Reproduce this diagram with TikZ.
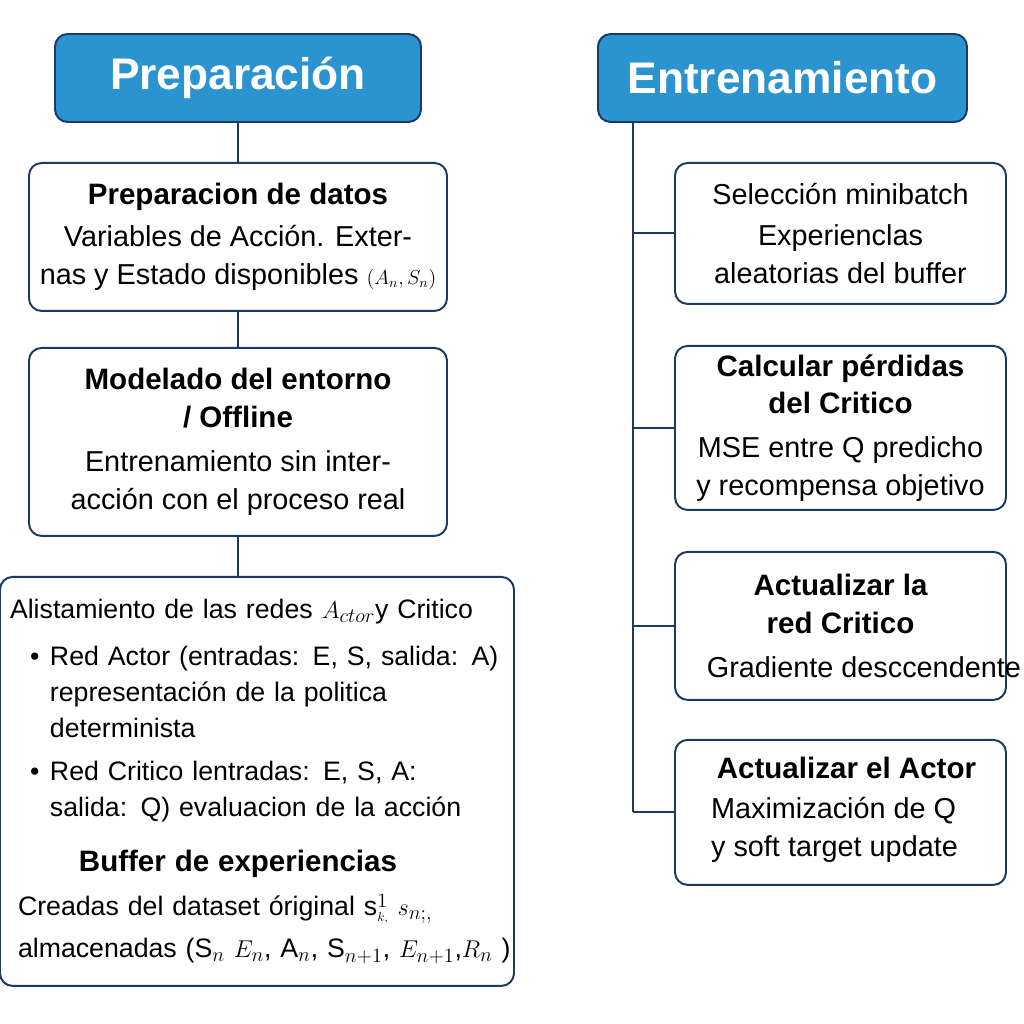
\documentclass[tikz,border=0pt]{standalone}
\usepackage{amssymb,amsmath}
\usepackage{fontspec}
\setmainfont{Liberation Sans}
\usepackage{tikz}
\usetikzlibrary{positioning}
\definecolor{navy}{HTML}{1B3A66}
\definecolor{headblue}{HTML}{2A93D0}

\begin{document}
\begin{tikzpicture}[node distance=1cm,line width=1.4pt,
        head/.style={rectangle,rounded corners=9pt,draw=navy,fill=headblue,text=white,minimum height=2.2cm,
          font=\fontsize{31.5}{36}\selectfont\bfseries},
        box/.style={rectangle,rounded corners=9pt,draw=navy,align=center,inner sep=0pt,
          font=\fontsize{20.5}{27}\selectfont},
        link/.style={draw=navy}]
        \useasboundingbox (0,0) rectangle (25.6,-25.6);
        % columna izquierda
        \node[head,minimum width=9.15cm]  (prep)    at (5.95,-1.95)     {Preparación};
        \node[box,minimum width=10.45cm,minimum height=3.7cm] (datos) [below=0.975cm of prep]
          {{\fontsize{21}{27}\selectfont\bfseries Preparacion de datos}\\[3pt]
           Variables de Acción. Exter-\\
           nas y Estado disponibles {\fontsize{14}{14}\selectfont$(A_n, S_n)$}};
        \node[box,minimum width=10.45cm,minimum height=4.7cm] (modelo) [below=0.875cm of datos]
          {{\fontsize{21}{27}\selectfont\bfseries Modelado del entorno}\\
           {\fontsize{21}{27}\selectfont\bfseries / Offline}\\[4pt]
           Entrenamiento sin inter-\\
           acción con el proceso real};
        \node[box,align=left,text width=12.35cm,inner xsep=0.25cm,minimum height=10.225cm,
          font=\fontsize{19}{25.5}\selectfont] (alist)
          [below=0.975cm of modelo,xshift=0.475cm]
          {Alistamiento de las redes $A_{ctor}$y Critico\\[8pt]
           \hspace*{0.5cm}\makebox[0.5cm][l]{\textbullet}Red Actor (entradas: E, S, salida: A)\\
           \hspace*{1cm}representación de la politica\\
           \hspace*{1cm}determinista\\[5pt]
           \hspace*{0.5cm}\makebox[0.5cm][l]{\textbullet}Red Critico lentradas: E, S, A:\\
           \hspace*{1cm}salida: Q) evaluacion de la acción\\[14pt]
           \makebox[11.4cm]{\fontsize{21}{27}\selectfont\bfseries Buffer de experiencias}\\[6pt]
           \hspace*{0.2cm}Creadas del dataset óriginal s$^{1}_{\scriptscriptstyle k,}$ $s_{n;,}$\\[4pt]
           \makebox[12.35cm][l]{\hspace*{0.2cm}almacenadas (S$_n$ $E_n$, A$_n$, S$_{n+1}$, $E_{n+1}$,$R_n$ )}};
        % columna derecha
        \node[head,minimum width=9.225cm] (entrena) at (19.5625,-1.95)  {Entrenamiento};
        \node[box,minimum width=8.275cm,minimum height=3.525cm] (minibatch) [below=0.975cm of entrena,xshift=1.45cm]
          {Selección minibatch\\[2pt]
           Experienclas\\
           aleatorias del buffer};
        \node[box,minimum width=8.275cm,minimum height=4.1cm] (perdidas) [below=of minibatch]
          {{\fontsize{21}{27}\selectfont\bfseries Calcular pérdidas}\\
           {\fontsize{21}{27}\selectfont\bfseries del Critico}\\[4pt]
           MSE entre Q predicho\\
           y recompensa objetivo};
        \node[box,minimum width=8.275cm,minimum height=3.7cm] (critico) [below=of perdidas]
          {{\fontsize{21}{27}\selectfont\bfseries Actualizar la}\\
           {\fontsize{21}{27}\selectfont\bfseries red Critico}\\[4pt]
           \makebox[7.8cm][l]{\hspace*{0.56cm}Gradiente desccendente}};
        \node[box,minimum width=8.275cm,minimum height=3.625cm] (actor) [below=0.95cm of critico]
          {\hspace*{0.3cm}{\fontsize{21}{27}\selectfont\bfseries Actualizar el Actor}\\[8pt]
           \begin{tabular}{@{}l@{}}Maximización de Q\\y soft target update\end{tabular}\hspace*{0.3cm}};
        \coordinate (spine) at ([xshift=0.9cm]entrena.south west);
        \path[link]
          (prep) edge (datos)
          (datos) edge (modelo)
          (modelo.south) edge (modelo.south |- alist.north)
          (spine) edge (spine |- actor.west);
        \foreach \n in {minibatch,perdidas,critico,actor}
          \draw[link] (spine |- \n.west) -- (\n.west);
      \end{tikzpicture}
\end{document}
